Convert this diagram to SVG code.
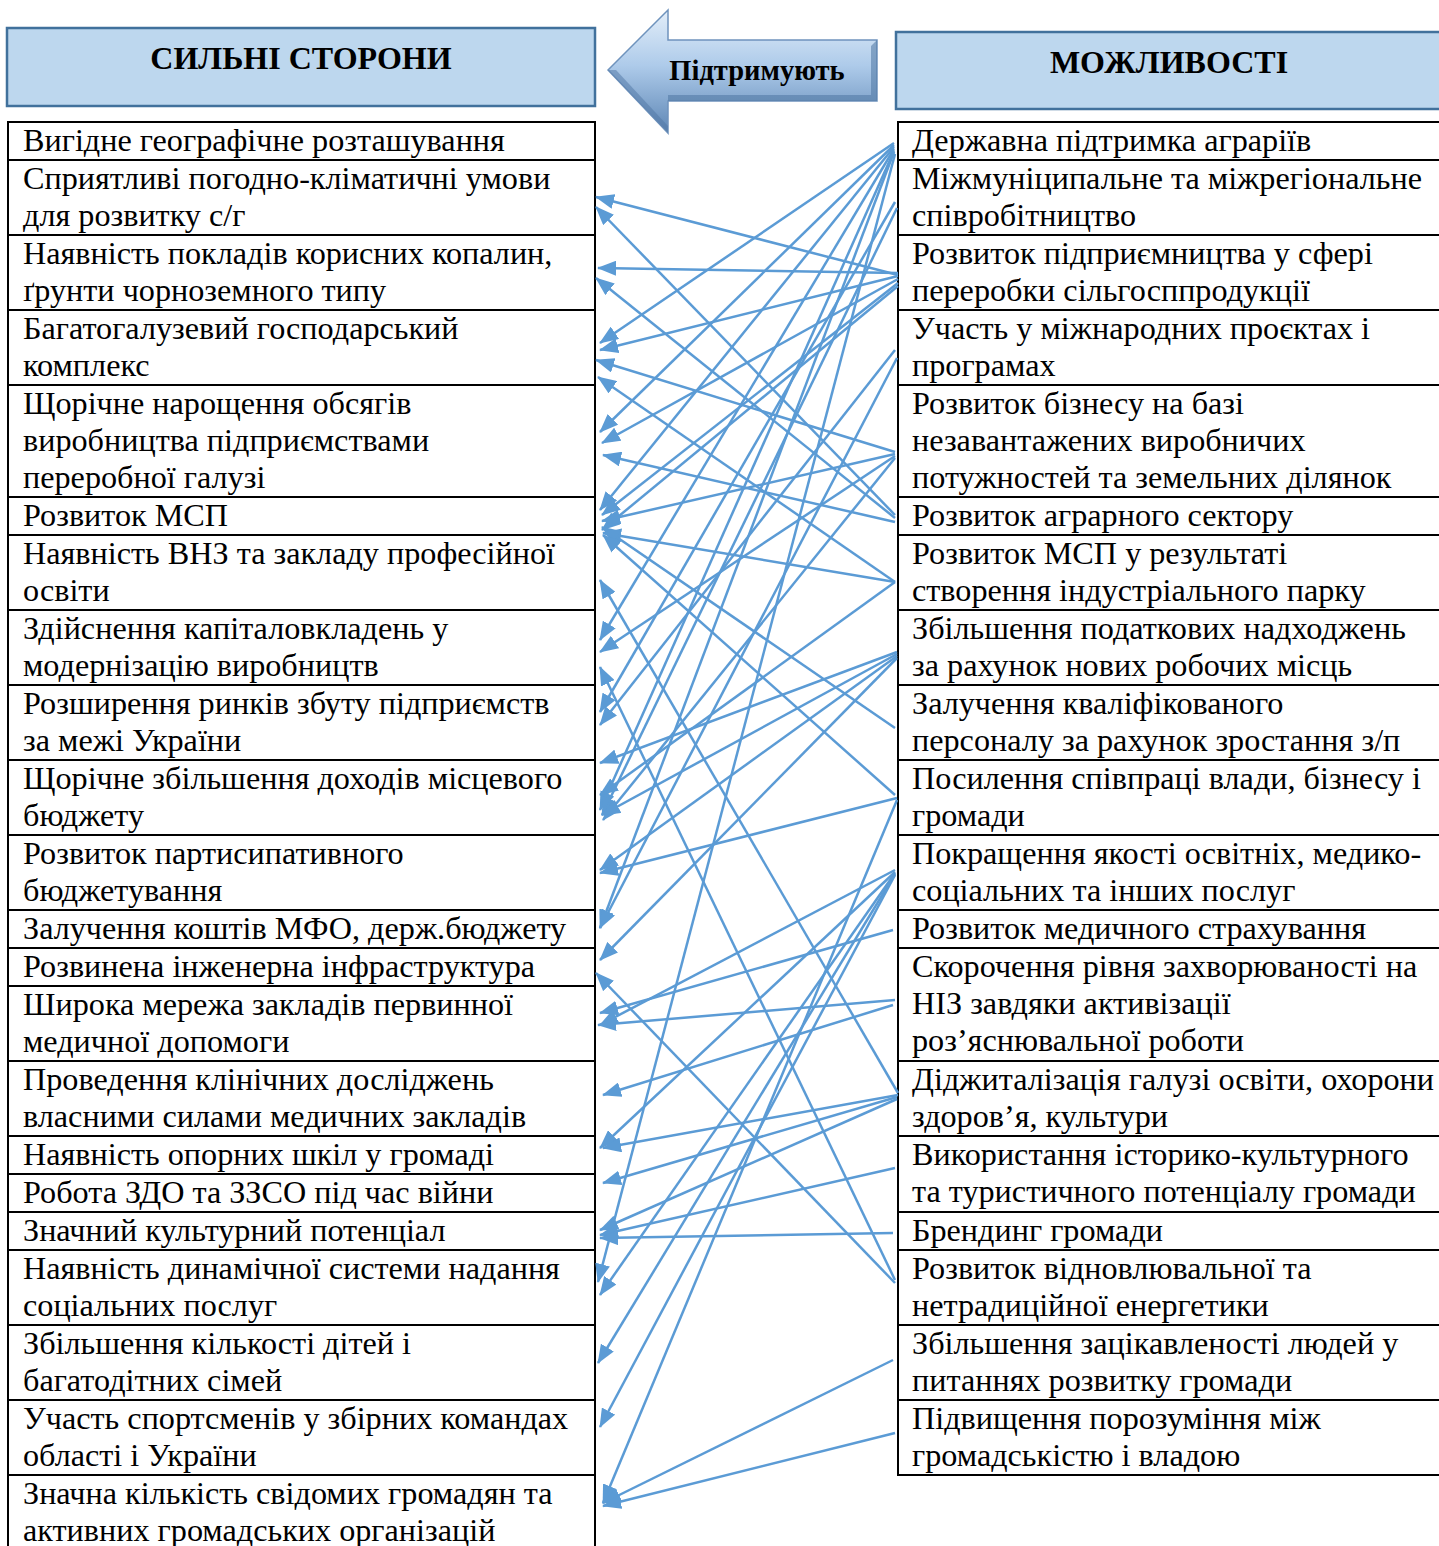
<svg xmlns="http://www.w3.org/2000/svg" width="1439" height="1546" viewBox="0 0 1439 1546">
<style>
.hdr{fill:#bdd7ee;stroke:#41719c;stroke-width:2.5}
.ht{font-family:"Liberation Serif","Times New Roman",serif;font-weight:bold;font-size:32px;fill:#000;text-anchor:middle}
.cell{fill:#fff;stroke:#000;stroke-width:2}
.t{font-family:"Liberation Serif","Times New Roman",serif;font-size:32.2px;fill:#000}
.c{stroke:#5b9bd5;stroke-width:2.5;fill:none}
</style>
<defs>
<marker id="ah" viewBox="0 0 10 10" refX="9.5" refY="5" markerWidth="19" markerHeight="15" preserveAspectRatio="none" markerUnits="userSpaceOnUse" orient="auto">
<path d="M0,0 L10,5 L0,10 z" fill="#5b9bd5"/>
</marker>
<linearGradient id="ag" x1="0" y1="0" x2="0" y2="1">
<stop offset="0" stop-color="#e3eef9"/>
<stop offset="0.45" stop-color="#aecbea"/>
<stop offset="1" stop-color="#5d86b5"/>
</linearGradient>
</defs>

<g id="header-strengths">
<rect class="hdr" x="7" y="28" width="588" height="78"/>
<text class="ht" x="301" y="69">СИЛЬНІ СТОРОНИ</text>
</g>
<g id="header-opportunities">
<rect class="hdr" x="896" y="32" width="548" height="77"/>
<text class="ht" x="1169" y="73">МОЖЛИВОСТІ</text>
</g>
<g id="support-arrow">
<polygon points="608,70 668,10 668,40 877,40 877,101 668,101 668,133" fill="url(#ag)" stroke="#6f93bd" stroke-width="1.5"/>
<polygon points="668,101 877,101 877,40 871,46 871,95 668,95" fill="#4f76a3" opacity="0.55"/>
<polygon points="608,70 668,133 668,126 616,70" fill="#4f76a3" opacity="0.5"/>
<text x="757" y="80" font-family="Liberation Serif, Times New Roman, serif" font-weight="bold" font-size="28.5px" text-anchor="middle" fill="#000">Підтримують</text>
</g>

<g id="strengths">
<g id="s1"><rect class="cell" x="8" y="122" width="587" height="38"/><text class="t" x="23" y="151">Вигідне географічне розташування</text></g>
<g id="s2"><rect class="cell" x="8" y="160" width="587" height="75"/><text class="t" x="23" y="189">Сприятливі погодно-кліматичні умови</text><text class="t" x="23" y="226">для розвитку с/г</text></g>
<g id="s3"><rect class="cell" x="8" y="235" width="587" height="75"/><text class="t" x="23" y="264">Наявність покладів корисних копалин,</text><text class="t" x="23" y="301">ґрунти чорноземного типу</text></g>
<g id="s4"><rect class="cell" x="8" y="310" width="587" height="75"/><text class="t" x="23" y="339">Багатогалузевий господарський</text><text class="t" x="23" y="376">комплекс</text></g>
<g id="s5"><rect class="cell" x="8" y="385" width="587" height="112"/><text class="t" x="23" y="414">Щорічне нарощення обсягів</text><text class="t" x="23" y="451">виробництва підприємствами</text><text class="t" x="23" y="488">переробної галузі</text></g>
<g id="s6"><rect class="cell" x="8" y="497" width="587" height="38"/><text class="t" x="23" y="526">Розвиток МСП</text></g>
<g id="s7"><rect class="cell" x="8" y="535" width="587" height="75"/><text class="t" x="23" y="564">Наявність ВНЗ та закладу професійної</text><text class="t" x="23" y="601">освіти</text></g>
<g id="s8"><rect class="cell" x="8" y="610" width="587" height="75"/><text class="t" x="23" y="639">Здійснення капіталовкладень у</text><text class="t" x="23" y="676">модернізацію виробництв</text></g>
<g id="s9"><rect class="cell" x="8" y="685" width="587" height="75"/><text class="t" x="23" y="714">Розширення ринків збуту підприємств</text><text class="t" x="23" y="751">за межі України</text></g>
<g id="s10"><rect class="cell" x="8" y="760" width="587" height="75"/><text class="t" x="23" y="789">Щорічне збільшення доходів місцевого</text><text class="t" x="23" y="826">бюджету</text></g>
<g id="s11"><rect class="cell" x="8" y="835" width="587" height="75"/><text class="t" x="23" y="864">Розвиток партисипативного</text><text class="t" x="23" y="901">бюджетування</text></g>
<g id="s12"><rect class="cell" x="8" y="910" width="587" height="38"/><text class="t" x="23" y="939">Залучення коштів МФО, держ.бюджету</text></g>
<g id="s13"><rect class="cell" x="8" y="948" width="587" height="38"/><text class="t" x="23" y="977">Розвинена інженерна інфраструктура</text></g>
<g id="s14"><rect class="cell" x="8" y="986" width="587" height="75"/><text class="t" x="23" y="1015">Широка мережа закладів первинної</text><text class="t" x="23" y="1052">медичної допомоги</text></g>
<g id="s15"><rect class="cell" x="8" y="1061" width="587" height="75"/><text class="t" x="23" y="1090">Проведення клінічних досліджень</text><text class="t" x="23" y="1127">власними силами медичних закладів</text></g>
<g id="s16"><rect class="cell" x="8" y="1136" width="587" height="38"/><text class="t" x="23" y="1165">Наявність опорних шкіл у громаді</text></g>
<g id="s17"><rect class="cell" x="8" y="1174" width="587" height="38"/><text class="t" x="23" y="1203">Робота ЗДО та ЗЗСО під час війни</text></g>
<g id="s18"><rect class="cell" x="8" y="1212" width="587" height="38"/><text class="t" x="23" y="1241">Значний культурний потенціал</text></g>
<g id="s19"><rect class="cell" x="8" y="1250" width="587" height="75"/><text class="t" x="23" y="1279">Наявність динамічної системи надання</text><text class="t" x="23" y="1316">соціальних послуг</text></g>
<g id="s20"><rect class="cell" x="8" y="1325" width="587" height="75"/><text class="t" x="23" y="1354">Збільшення кількості дітей і</text><text class="t" x="23" y="1391">багатодітних сімей</text></g>
<g id="s21"><rect class="cell" x="8" y="1400" width="587" height="75"/><text class="t" x="23" y="1429">Участь спортсменів у збірних командах</text><text class="t" x="23" y="1466">області і України</text></g>
<g id="s22"><rect class="cell" x="8" y="1475" width="587" height="80"/><text class="t" x="23" y="1504">Значна кількість свідомих громадян та</text><text class="t" x="23" y="1541">активних громадських організацій</text></g>
</g>

<g id="opportunities">
<g id="o1"><rect class="cell" x="898" y="122" width="545" height="38"/><text class="t" x="912" y="151">Державна підтримка аграріїв</text></g>
<g id="o2"><rect class="cell" x="898" y="160" width="545" height="75"/><text class="t" x="912" y="189">Міжмуніципальне та міжрегіональне</text><text class="t" x="912" y="226">співробітництво</text></g>
<g id="o3"><rect class="cell" x="898" y="235" width="545" height="75"/><text class="t" x="912" y="264">Розвиток підприємництва у сфері</text><text class="t" x="912" y="301">переробки сільгосппродукції</text></g>
<g id="o4"><rect class="cell" x="898" y="310" width="545" height="75"/><text class="t" x="912" y="339">Участь у міжнародних проєктах і</text><text class="t" x="912" y="376">програмах</text></g>
<g id="o5"><rect class="cell" x="898" y="385" width="545" height="112"/><text class="t" x="912" y="414">Розвиток бізнесу на базі</text><text class="t" x="912" y="451">незавантажених виробничих</text><text class="t" x="912" y="488">потужностей та земельних ділянок</text></g>
<g id="o6"><rect class="cell" x="898" y="497" width="545" height="38"/><text class="t" x="912" y="526">Розвиток аграрного сектору</text></g>
<g id="o7"><rect class="cell" x="898" y="535" width="545" height="75"/><text class="t" x="912" y="564">Розвиток МСП у результаті</text><text class="t" x="912" y="601">створення індустріального парку</text></g>
<g id="o8"><rect class="cell" x="898" y="610" width="545" height="75"/><text class="t" x="912" y="639">Збільшення податкових надходжень</text><text class="t" x="912" y="676">за рахунок нових робочих місць</text></g>
<g id="o9"><rect class="cell" x="898" y="685" width="545" height="75"/><text class="t" x="912" y="714">Залучення кваліфікованого</text><text class="t" x="912" y="751">персоналу за рахунок зростання з/п</text></g>
<g id="o10"><rect class="cell" x="898" y="760" width="545" height="75"/><text class="t" x="912" y="789">Посилення співпраці влади, бізнесу і</text><text class="t" x="912" y="826">громади</text></g>
<g id="o11"><rect class="cell" x="898" y="835" width="545" height="75"/><text class="t" x="912" y="864">Покращення якості освітніх, медико-</text><text class="t" x="912" y="901">соціальних та інших послуг</text></g>
<g id="o12"><rect class="cell" x="898" y="910" width="545" height="38"/><text class="t" x="912" y="939">Розвиток медичного страхування</text></g>
<g id="o13"><rect class="cell" x="898" y="948" width="545" height="113"/><text class="t" x="912" y="977">Скорочення рівня захворюваності на</text><text class="t" x="912" y="1014">НІЗ завдяки активізації</text><text class="t" x="912" y="1051">роз’яснювальної роботи</text></g>
<g id="o14"><rect class="cell" x="898" y="1061" width="545" height="75"/><text class="t" x="912" y="1090">Діджиталізація галузі освіти, охорони</text><text class="t" x="912" y="1127">здоров’я, культури</text></g>
<g id="o15"><rect class="cell" x="898" y="1136" width="545" height="76"/><text class="t" x="912" y="1165">Використання історико-культурного</text><text class="t" x="912" y="1202">та туристичного потенціалу громади</text></g>
<g id="o16"><rect class="cell" x="898" y="1212" width="545" height="38"/><text class="t" x="912" y="1241">Брендинг громади</text></g>
<g id="o17"><rect class="cell" x="898" y="1250" width="545" height="75"/><text class="t" x="912" y="1279">Розвиток відновлювальної та</text><text class="t" x="912" y="1316">нетрадиційної енергетики</text></g>
<g id="o18"><rect class="cell" x="898" y="1325" width="545" height="75"/><text class="t" x="912" y="1354">Збільшення зацікавленості людей у</text><text class="t" x="912" y="1391">питаннях розвитку громади</text></g>
<g id="o19"><rect class="cell" x="898" y="1400" width="545" height="75"/><text class="t" x="912" y="1429">Підвищення порозуміння між</text><text class="t" x="912" y="1466">громадськістю і владою</text></g>
</g>

<g id="connectors">
<line class="c" marker-end="url(#ah)" x1="894" y1="143" x2="600" y2="343"/>
<line class="c" marker-end="url(#ah)" x1="894" y1="145" x2="600" y2="432"/>
<line class="c" marker-end="url(#ah)" x1="894" y1="147" x2="600" y2="510"/>
<line class="c" marker-end="url(#ah)" x1="894" y1="149" x2="600" y2="640"/>
<line class="c" marker-end="url(#ah)" x1="894" y1="151" x2="600" y2="810"/>
<line class="c" marker-end="url(#ah)" x1="894" y1="152" x2="600" y2="928"/>
<line class="c" marker-end="url(#ah)" x1="895" y1="154" x2="598" y2="1282"/>
<line class="c" marker-end="url(#ah)" x1="895" y1="202" x2="600" y2="712"/>
<line class="c" marker-end="url(#ah)" x1="897" y1="208" x2="602" y2="815"/>
<line class="c" marker-end="url(#ah)" x1="898" y1="275" x2="596" y2="197"/>
<line class="c" marker-end="url(#ah)" x1="898" y1="273" x2="598" y2="268"/>
<line class="c" marker-end="url(#ah)" x1="898" y1="276" x2="600" y2="350"/>
<line class="c" marker-end="url(#ah)" x1="898" y1="279" x2="602" y2="443"/>
<line class="c" marker-end="url(#ah)" x1="898" y1="283" x2="602" y2="515"/>
<line class="c" marker-end="url(#ah)" x1="898" y1="286" x2="602" y2="530"/>
<line class="c" marker-end="url(#ah)" x1="895" y1="350" x2="600" y2="725"/>
<line class="c" marker-end="url(#ah)" x1="897" y1="358" x2="600" y2="928"/>
<line class="c" marker-end="url(#ah)" x1="895" y1="452" x2="596" y2="360"/>
<line class="c" marker-end="url(#ah)" x1="895" y1="454" x2="602" y2="521"/>
<line class="c" marker-end="url(#ah)" x1="895" y1="456" x2="600" y2="652"/>
<line class="c" marker-end="url(#ah)" x1="895" y1="458" x2="603" y2="820"/>
<line class="c" marker-end="url(#ah)" x1="895" y1="515" x2="596" y2="207"/>
<line class="c" marker-end="url(#ah)" x1="895" y1="518" x2="596" y2="278"/>
<line class="c" marker-end="url(#ah)" x1="895" y1="522" x2="603" y2="455"/>
<line class="c" marker-end="url(#ah)" x1="895" y1="582" x2="598" y2="377"/>
<line class="c" marker-end="url(#ah)" x1="895" y1="582" x2="603" y2="533"/>
<line class="c" marker-end="url(#ah)" x1="895" y1="582" x2="600" y2="795"/>
<line class="c" marker-end="url(#ah)" x1="897" y1="652" x2="600" y2="763"/>
<line class="c" marker-end="url(#ah)" x1="897" y1="654" x2="602" y2="815"/>
<line class="c" marker-end="url(#ah)" x1="897" y1="656" x2="600" y2="870"/>
<line class="c" marker-end="url(#ah)" x1="897" y1="658" x2="600" y2="960"/>
<line class="c" marker-end="url(#ah)" x1="895" y1="728" x2="602" y2="527"/>
<line class="c" marker-end="url(#ah)" x1="895" y1="795" x2="603" y2="535"/>
<line class="c" marker-end="url(#ah)" x1="897" y1="798" x2="600" y2="873"/>
<line class="c" marker-end="url(#ah)" x1="897" y1="800" x2="603" y2="1503"/>
<line class="c" marker-end="url(#ah)" x1="895" y1="870" x2="600" y2="1025"/>
<line class="c" marker-end="url(#ah)" x1="895" y1="872" x2="600" y2="1148"/>
<line class="c" marker-end="url(#ah)" x1="895" y1="873" x2="600" y2="1295"/>
<line class="c" marker-end="url(#ah)" x1="895" y1="874" x2="598" y2="1363"/>
<line class="c" marker-end="url(#ah)" x1="895" y1="875" x2="600" y2="1427"/>
<line class="c" marker-end="url(#ah)" x1="893" y1="930" x2="600" y2="1013"/>
<line class="c" marker-end="url(#ah)" x1="895" y1="1000" x2="598" y2="1025"/>
<line class="c" marker-end="url(#ah)" x1="893" y1="1005" x2="603" y2="1095"/>
<line class="c" marker-end="url(#ah)" x1="898" y1="1093" x2="600" y2="580"/>
<line class="c" marker-end="url(#ah)" x1="898" y1="1095" x2="603" y2="1148"/>
<line class="c" marker-end="url(#ah)" x1="897" y1="1097" x2="603" y2="1183"/>
<line class="c" marker-end="url(#ah)" x1="897" y1="1099" x2="600" y2="1230"/>
<line class="c" marker-end="url(#ah)" x1="895" y1="1168" x2="600" y2="1235"/>
<line class="c" marker-end="url(#ah)" x1="893" y1="1233" x2="600" y2="1238"/>
<line class="c" marker-end="url(#ah)" x1="895" y1="1280" x2="600" y2="667"/>
<line class="c" marker-end="url(#ah)" x1="895" y1="1283" x2="596" y2="973"/>
<line class="c" marker-end="url(#ah)" x1="893" y1="1360" x2="603" y2="1503"/>
<line class="c" marker-end="url(#ah)" x1="895" y1="1433" x2="603" y2="1506"/>
</g>
</svg>
